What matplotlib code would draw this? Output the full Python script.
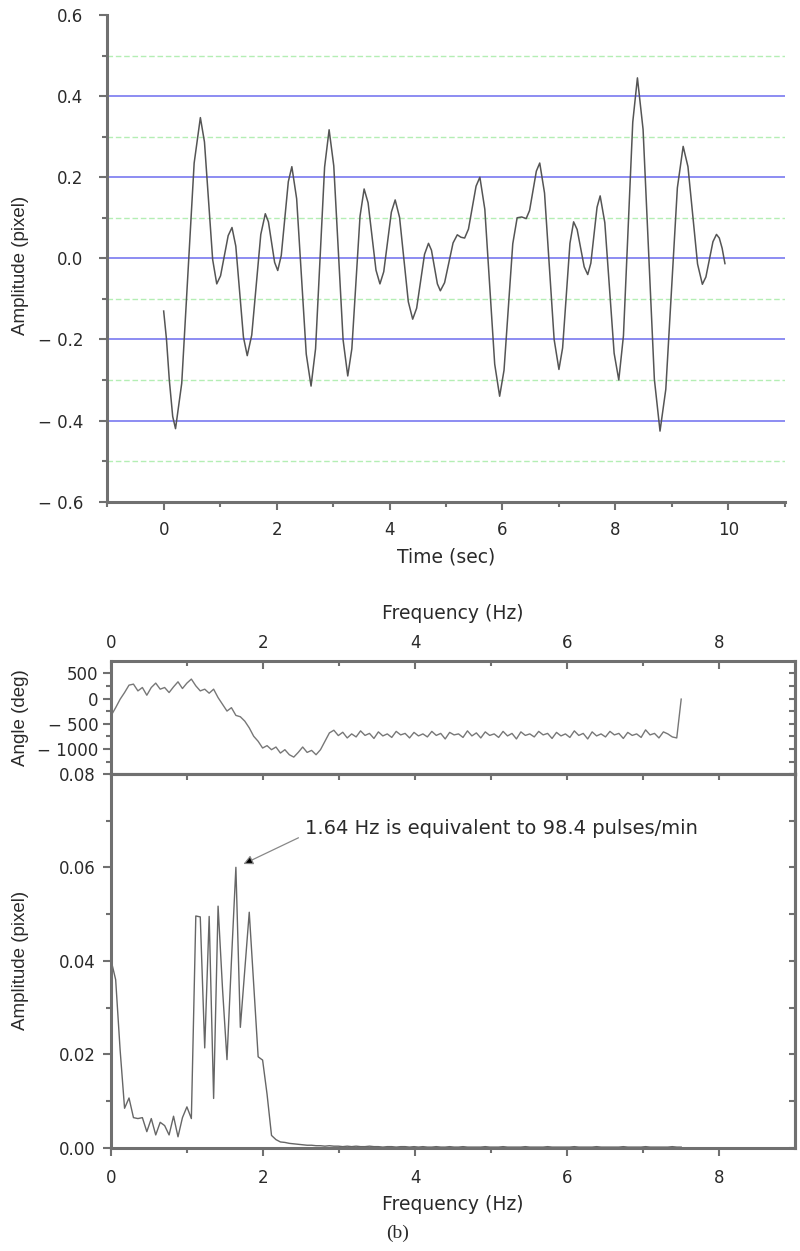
import numpy as np
import matplotlib
matplotlib.use("Agg")
import matplotlib.pyplot as plt

plt.rcParams['font.family'] = ['DejaVu Sans']

# ---- data ----
# (a) displacement signal: each row starts at an extremum, then points on the way to the next
t_sec = [0.00, 0.05, 0.10, 0.16,
         0.21, 0.32, 0.43, 0.54,
         0.65, 0.7225, 0.795, 0.8675,
         0.94, 1.0075, 1.075, 1.1425,
         1.21, 1.2775, 1.345, 1.4125,
         1.48, 1.56, 1.64, 1.72,
         1.80, 1.855, 1.91, 1.965,
         2.02, 2.0825, 2.145, 2.2075,
         2.27, 2.355, 2.44, 2.525,
         2.61, 2.69, 2.77, 2.85,
         2.93, 3.0125, 3.095, 3.1775,
         3.26, 3.3325, 3.405, 3.4775,
         3.55, 3.62, 3.69, 3.76,
         3.83, 3.8975, 3.965, 4.0325,
         4.10, 4.1775, 4.255, 4.3325,
         4.41, 4.48, 4.55, 4.62,
         4.69, 4.7425, 4.795, 4.8475,
         4.90, 4.975, 5.05, 5.125,
         5.20, 5.265,
         5.33, 5.3975, 5.465, 5.5325,
         5.60, 5.6875, 5.775, 5.8625,
         5.95, 6.0275, 6.105, 6.1825,
         6.26, 6.34,
         6.42, 6.48, 6.54, 6.60,
         6.66, 6.745, 6.83, 6.915,
         7.00, 7.065, 7.13, 7.195,
         7.26, 7.3225, 7.385, 7.4475,
         7.51, 7.565, 7.62, 7.675,
         7.73, 7.8125, 7.895, 7.9775,
         8.06, 8.1425, 8.225, 8.3075,
         8.39, 8.49, 8.59, 8.69,
         8.79, 8.8925, 8.995, 9.0975,
         9.20, 9.285, 9.37, 9.455,
         9.54, 9.6025, 9.665, 9.7275,
         9.79, 9.84, 9.89,
         9.94]
amp_px = [-0.13, -0.20, -0.30, -0.39,
          -0.42, -0.308, -0.037, 0.235,
          0.347, 0.287, 0.142, -0.003,
          -0.063, -0.043, 0.007, 0.056,
          0.076, 0.03, -0.082, -0.194,
          -0.24, -0.189, -0.065, 0.059,
          0.11, 0.09, 0.04, -0.01,
          -0.03, 0.007, 0.098, 0.189,
          0.226, 0.147, -0.045, -0.236,
          -0.315, -0.223, 0.001, 0.225,
          0.317, 0.228, 0.014, -0.201,
          -0.29, -0.223, -0.06, 0.104,
          0.171, 0.137, 0.054, -0.029,
          -0.063, -0.033, 0.041, 0.114,
          0.144, 0.101, -0.003, -0.107,
          -0.15, -0.123, -0.057, 0.01,
          0.037, 0.02, -0.022, -0.063,
          -0.08, -0.06, -0.011, 0.038,
          0.058, 0.052,
          0.05, 0.072, 0.125, 0.178,
          0.20, 0.121, -0.07, -0.261,
          -0.34, -0.276, -0.12, 0.036,
          0.10, 0.102,
          0.098, 0.118, 0.167, 0.215,
          0.235, 0.161, -0.02, -0.2,
          -0.274, -0.221, -0.092, 0.037,
          0.09, 0.071, 0.025, -0.021,
          -0.04, -0.012, 0.057, 0.126,
          0.154, 0.088, -0.073, -0.234,
          -0.30, -0.191, 0.073, 0.336,
          0.445, 0.318, 0.01, -0.298,
          -0.426, -0.323, -0.075, 0.174,
          0.276, 0.226, 0.106, -0.014,
          -0.064, -0.046, -0.003, 0.041,
          0.059, 0.05, 0.025,
          -0.013]

# (b) FFT, bins of FS/NFFT Hz
FS = 15.0
NFFT = 256
fft_amp = [0.040, 0.036, 0.021, 0.0085, 0.0107, 0.0065, 0.0063, 0.0065, 0.0035, 0.0063,
           0.0028, 0.0055, 0.0048, 0.0028, 0.0068, 0.0024, 0.0065, 0.0088, 0.0063, 0.0496,
           0.0494, 0.0214, 0.0495, 0.0106, 0.0517, 0.034, 0.0189, 0.040, 0.060, 0.0258,
           0.038, 0.0504, 0.035, 0.0195, 0.0188, 0.0115, 0.0027, 0.0018, 0.0013, 0.0012,
           0.0010, 0.0009,
           0.0008, 0.0007, 0.0006, 0.0006, 0.0005, 0.0005, 0.0004, 0.0005, 0.0004, 0.0004,
           0.0003, 0.0004, 0.0003, 0.0004, 0.0003, 0.0003, 0.0004, 0.0003, 0.0003, 0.0002,
           0.0003, 0.0003, 0.0002, 0.0003, 0.0003, 0.0002, 0.0003, 0.0002, 0.0003, 0.0002,
           0.0002, 0.0003, 0.0002, 0.0002, 0.0003, 0.0002, 0.0002, 0.0003, 0.0002, 0.0002,
           0.0002, 0.0002, 0.0003, 0.0002, 0.0002, 0.0002, 0.0003, 0.0002, 0.0002, 0.0002,
           0.0002, 0.0003, 0.0002, 0.0002, 0.0002, 0.0002, 0.0003, 0.0002, 0.0002, 0.0002,
           0.0002, 0.0002, 0.0003, 0.0002, 0.0002, 0.0002, 0.0002, 0.0003, 0.0002, 0.0002,
           0.0002, 0.0002, 0.0002, 0.0003, 0.0002, 0.0002, 0.0002, 0.0002, 0.0003, 0.0002,
           0.0002, 0.0002, 0.0002, 0.0002, 0.0003, 0.0002, 0.0002]
fft_angle = [-333, -180, -13, 120, 267, 287, 153, 220, 67, 220,
             307, 187, 220, 120, 233, 333, 200, 307, 387, 253,
             153, 187, 107, 187, 20, -113, -247, -180, -333, -360,
             -447, -580, -747, -847, -980, -933, -1013, -960, -1080, -1013,
             -1113, -1160, -1067, -960, -1067, -1027, -1113, -1013, -847, -680,
             -627, -733, -667, -780,
             -700, -760, -640, -730, -690, -790, -660, -740, -700, -770,
             -650, -720, -690, -780, -670, -740, -700, -760, -650, -730,
             -690, -800, -670, -720, -700, -770, -640, -740, -680, -780,
             -660, -730, -700, -770, -650, -740, -690, -800, -660, -730,
             -700, -760, -650, -720, -690, -790, -670, -740, -700, -770,
             -640, -730, -690, -800, -660, -740, -700, -760, -650, -720,
             -690, -790, -670, -730, -700, -770, -620, -720, -690, -780,
             -660, -700, -760, -780, -10]

top_yticks = [-0.6, -0.4, -0.2, 0.0, 0.2, 0.4, 0.6]
top_ylabels = ['\u2212 0.6', '\u2212 0.4', '\u2212 0.2', '0.0', '0.2', '0.4', '0.6']
blue_grid = [-0.4, -0.2, 0.0, 0.2, 0.4]
green_grid = [-0.5, -0.3, -0.1, 0.1, 0.3, 0.5]
angle_yticks = [-1000, -500, 0, 500]
angle_ylabels = ['\u2212 1000', '\u2212 500', '0', '500']
amp_yticks = [0.0, 0.02, 0.04, 0.06, 0.08]
amp_ylabels = ['0.00', '0.02', '0.04', '0.06', '0.08']

freq_amp = np.arange(len(fft_amp)) * FS / NFFT
freq_ang = np.arange(len(fft_angle)) * FS / NFFT

SPINE = '#707070'
TXT = '#2a2a2a'
LINE = '#555555'
TICKFS = 12
LABFS = 13.5
# the vertical labels are narrower in the original, Arial-like
YLAB = dict(fontsize=13.5, color=TXT, family=['Liberation Sans', 'DejaVu Sans'])


def style(ax, sides):
    for s in ['top', 'bottom', 'left', 'right']:
        if s in sides:
            ax.spines[s].set_color(SPINE)
            ax.spines[s].set_linewidth(2.2)
        else:
            ax.spines[s].set_visible(False)
    ax.tick_params(which='both', color=SPINE, width=1.5, labelcolor=TXT,
                   labelsize=TICKFS)
    ax.tick_params(which='major', length=6)
    ax.tick_params(which='minor', length=3.5)


def inner_ticks(sec, side):
    sec.tick_params(which='both', direction='in', color=SPINE, width=1.5, length=4)
    sec.spines[side].set_color(SPINE)
    sec.spines[side].set_linewidth(2.2)


fig = plt.figure(figsize=(8, 12.51), dpi=100)

# ---- (a) time signal ----
ax1 = fig.add_axes([0.134, 0.599, 0.847, 0.389])
style(ax1, ['left', 'bottom'])
ax1.set_xlim(-1, 11)
ax1.set_ylim(-0.6, 0.6)
ax1.hlines(green_grid, -1, 11, color='#b4eeb4', lw=1.0, ls=(0, (4, 2)), zorder=0)
ax1.hlines(blue_grid, -1, 11, color='#8c8cf2', lw=1.4, zorder=0)
ax1.plot(t_sec, amp_px, color=LINE, lw=1.1, solid_joinstyle='round')
ax1.set_xticks(range(0, 11, 2))
ax1.set_xticks(range(-1, 12, 2), minor=True)
ax1.set_yticks(top_yticks)
ax1.set_yticklabels(top_ylabels)
ax1.set_yticks([-0.5, -0.3, -0.1, 0.1, 0.3, 0.5], minor=True)
ax1.tick_params(which='both', direction='out')
ax1.tick_params(axis='x', pad=8)
ax1.tick_params(axis='y', pad=11)
ax1.set_xlabel('Time (sec)', fontsize=LABFS, color=TXT, labelpad=6)
ax1.set_ylabel('Amplitude (pixel)', **YLAB)
ax1.yaxis.set_label_coords((29 - 107) / 677.6, 0.485)

# ---- (b) phase panel ----
ax2 = fig.add_axes([0.139, 0.3815, 0.855, 0.0903])
style(ax2, ['left', 'bottom', 'top', 'right'])
ax2.plot(freq_ang, fft_angle, color='#777777', lw=1.0)
ax2.set_xlim(0, 9)
ax2.set_ylim(-1490, 750)
ax2.xaxis.tick_top()
ax2.xaxis.set_label_position('top')
ax2.set_xticks(range(0, 9, 2))
ax2.set_xticks(range(1, 9, 2), minor=True)
ax2.tick_params(axis='x', which='both', direction='in', pad=6)
ax2.set_yticks(angle_yticks)
ax2.set_yticklabels(angle_ylabels)
ax2.set_yticks([-1250, -750, -250, 250], minor=True)
ax2.tick_params(axis='y', which='both', direction='out', pad=3)
ax2.set_xlabel('Frequency (Hz)', fontsize=LABFS, color=TXT, labelpad=11)
ax2.set_ylabel('Angle (deg)', **YLAB)
ax2.yaxis.set_label_coords((29 - 111.2) / 684, 0.5)
ax2r = ax2.secondary_yaxis('right')
ax2r.set_yticks(angle_yticks, labels=[])
ax2r.set_yticks([-1250, -750, -250, 250], minor=True)
inner_ticks(ax2r, 'right')

# ---- (b) amplitude spectrum ----
ax3 = fig.add_axes([0.139, 0.0823, 0.855, 0.2992])
style(ax3, ['left', 'bottom', 'top', 'right'])
ax3.plot(freq_amp, fft_amp, color='#666666', lw=1.0)
ax3.set_xlim(0, 9)
ax3.set_ylim(0, 0.08)
ax3.set_xticks(range(0, 9, 2))
ax3.set_xticks(range(1, 9, 2), minor=True)
ax3.set_yticks(amp_yticks)
ax3.set_yticklabels(amp_ylabels)
ax3.set_yticks([0.01, 0.03, 0.05, 0.07], minor=True)
ax3.tick_params(which='both', direction='out')
ax3.tick_params(axis='x', pad=9)
ax3.tick_params(axis='y', pad=5)
ax3.set_xlabel('Frequency (Hz)', fontsize=LABFS, color=TXT, labelpad=6)
ax3.set_ylabel('Amplitude (pixel)', **YLAB)
ax3.yaxis.set_label_coords((29 - 111.2) / 684, 0.5)

ax3t = ax3.secondary_xaxis('top')
ax3t.set_xticks(range(0, 9, 2), labels=[])
ax3t.set_xticks(range(1, 9, 2), minor=True)
inner_ticks(ax3t, 'top')
ax3r = ax3.secondary_yaxis('right')
ax3r.set_yticks(amp_yticks, labels=[])
ax3r.set_yticks([0.01, 0.03, 0.05, 0.07], minor=True)
inner_ticks(ax3r, 'right')

ax3.annotate('1.64 Hz is equivalent to 98.4 pulses/min',
             xy=(1.74, 0.0607), xytext=(2.55, 0.0682),
             fontsize=14, color=TXT, ha='left', va='center',
             arrowprops=dict(arrowstyle='-|>', fc='black', ec='#888888',
                             lw=0.9, mutation_scale=14, relpos=(0, 0.2),
                             shrinkA=3, shrinkB=0))

fig.text(0.497, 0.0144, '(b)', ha='center', va='center', fontsize=14,
         color=TXT, family=['Liberation Serif', 'DejaVu Serif'])

fig.savefig('out.png', dpi=100, facecolor='white')
